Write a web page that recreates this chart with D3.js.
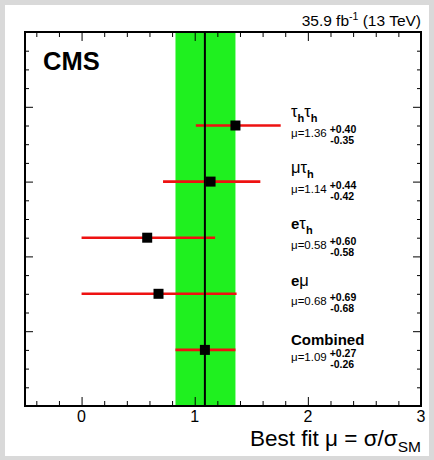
<!DOCTYPE html>
<html>
<head>
<meta charset="utf-8">
<script src="https://cdn.jsdelivr.net/npm/d3@7"></script>
<style>
  html, body { margin: 0; padding: 0; background: #d9d9d9; }
  svg { display: block; }
  text { font-family: "Liberation Sans", Arial, Helvetica, sans-serif; fill: #000; }
</style>
</head>
<body>
<svg id="chart" width="434" height="460"></svg>
<script>
// Signal strength per decay channel (best fit and asymmetric uncertainties)
const channels = ["tautau", "mutau", "etau", "emu", "combined"];
const muBest = [1.36, 1.14, 0.58, 0.68, 1.09];
const errUp = [0.40, 0.44, 0.60, 0.69, 0.27];
const errDown = [0.35, 0.42, 0.58, 0.68, 0.26];

// Channel names as rich-text segments: [text, style]
const channelNames = [
  [["τ", ""], ["h", "sub"], ["τ", ""], ["h", "sub"]],
  [["μ", ""], ["τ", ""], ["h", "sub"]],
  [["e", "bold"], ["τ", ""], ["h", "sub"]],
  [["e", "bold"], ["μ", ""]],
  [["Combined", "bold"]]
];

const xMajorTicks = [0, 1, 2, 3];
const xTickLabels = ["0", "1", "2", "3"];
const lumiLabel = "35.9 fb";
const lumiExp = "-1";
const lumiTail = " (13 TeV)";

const svg = d3.select("#chart");

// white canvas inside the grey surround
svg.append("rect").attr("x", 5).attr("y", 5).attr("width", 424).attr("height", 451).attr("fill", "#fff");

const frame = { left: 25, right: 421, top: 32, bottom: 406 };
const x = d3.scaleLinear().domain([-0.5, 3]).range([frame.left, frame.right]);
const y = d3.scaleLinear().domain([0, 5]).range([frame.bottom, frame.top]);
// rows sit evenly spaced from the bottom of the frame
const yRow = d3.scalePoint().domain(channels.slice().reverse()).range([y(0.75), y(3.75)]);

const comb = channels.length - 1;

// combined uncertainty band
svg.append("rect")
  .attr("x", x(muBest[comb] - errDown[comb]))
  .attr("y", frame.top)
  .attr("width", x(muBest[comb] + errUp[comb]) - x(muBest[comb] - errDown[comb]))
  .attr("height", frame.bottom - frame.top)
  .attr("fill", "#1ff01f");

// error bars
svg.append("g").selectAll("line").data(channels).join("line")
  .attr("x1", (d, i) => x(muBest[i] - errDown[i]))
  .attr("x2", (d, i) => x(muBest[i] + errUp[i]))
  .attr("y1", d => yRow(d)).attr("y2", d => yRow(d))
  .attr("stroke", "#ee1111").attr("stroke-width", 2.6);

// combined best-fit line
svg.append("line")
  .attr("x1", x(muBest[comb])).attr("x2", x(muBest[comb]))
  .attr("y1", frame.top).attr("y2", frame.bottom)
  .attr("stroke", "#000").attr("stroke-width", 2);

// best-fit markers
const ms = 10;
svg.append("g").selectAll("rect").data(channels).join("rect")
  .attr("x", (d, i) => x(muBest[i]) - ms / 2)
  .attr("y", d => yRow(d) - ms / 2)
  .attr("width", ms).attr("height", ms)
  .attr("fill", "#000");

// axes: ticks drawn inward on all four sides
function minorValues(scale, step) {
  const [a, b] = scale.domain();
  const out = [];
  for (let v = Math.ceil(a / step) * step; v <= b + 1e-9; v += step) {
    const r = Math.round(v * 1000) / 1000;
    if (Math.abs(r - Math.round(r)) > 1e-6) out.push(r);
  }
  return out;
}
const xMinor = minorValues(x, 0.2);
const yMajor = [1, 2, 3, 4];
const yMinor = minorValues(y, 0.25);

function drawAxis(axis, tx, ty) {
  const g = svg.append("g").attr("transform", `translate(${tx},${ty})`).call(axis);
  g.select(".domain").remove();
  g.selectAll("text").remove();
  g.selectAll("line").attr("stroke", "#000").attr("stroke-width", 1);
  return g;
}
drawAxis(d3.axisTop(x).tickValues(xMajorTicks).tickSize(9), 0, frame.bottom);
drawAxis(d3.axisTop(x).tickValues(xMinor).tickSize(5), 0, frame.bottom);
drawAxis(d3.axisBottom(x).tickValues(xMajorTicks).tickSize(9), 0, frame.top);
drawAxis(d3.axisBottom(x).tickValues(xMinor).tickSize(5), 0, frame.top);
drawAxis(d3.axisRight(y).tickValues(yMajor).tickSize(8), frame.left, 0);
drawAxis(d3.axisRight(y).tickValues(yMinor).tickSize(4), frame.left, 0);
drawAxis(d3.axisLeft(y).tickValues(yMajor).tickSize(8), frame.right, 0);
drawAxis(d3.axisLeft(y).tickValues(yMinor).tickSize(4), frame.right, 0);

// frame
svg.append("rect")
  .attr("x", frame.left).attr("y", frame.top)
  .attr("width", frame.right - frame.left).attr("height", frame.bottom - frame.top)
  .attr("fill", "none").attr("stroke", "#000").attr("stroke-width", 2);

// x tick labels
svg.append("g").selectAll("text").data(xMajorTicks).join("text")
  .attr("x", d => x(d)).attr("y", frame.bottom + 16)
  .attr("text-anchor", "middle").attr("font-size", 16)
  .text((d, i) => xTickLabels[i]);

// x axis title
const xt = svg.append("text").attr("x", frame.right).attr("y", 446)
  .attr("text-anchor", "end").attr("font-size", 22.5);
xt.append("tspan").text("Best fit μ = σ/σ");
xt.append("tspan").attr("font-size", 15.5).attr("dy", 6).text("SM");

// luminosity label
const lt = svg.append("text").attr("x", frame.right).attr("y", 26)
  .attr("text-anchor", "end").attr("font-size", 15.5);
lt.append("tspan").text(lumiLabel);
lt.append("tspan").attr("font-size", 10.5).attr("dy", -6).text(lumiExp);
lt.append("tspan").attr("dy", 6).text(lumiTail);

// experiment label
svg.append("text").attr("x", 43).attr("y", 70)
  .attr("font-size", 25.5).attr("font-weight", "bold").text("CMS");

// channel labels
const labelX = 291;
channels.forEach((c, i) => {
  const yc = yRow(c);
  const segs = channelNames[i];
  const hasSub = segs.some(s => s[1] === "sub");
  const hasDesc = segs.some(s => s[0].includes("μ"));
  const base = yc - 5 - (hasSub ? 4 : hasDesc ? 2.5 : 0);
  const t = svg.append("text").attr("x", labelX).attr("y", base).attr("font-size", 15);
  let shifted = false;
  segs.forEach(([txt, style]) => {
    const ts = t.append("tspan").text(txt);
    if (style === "bold") ts.attr("font-weight", "bold");
    if (style === "sub") {
      ts.attr("font-weight", "bold").attr("font-size", 11).attr("dy", shifted ? 0 : 5);
      shifted = true;
    } else {
      if (shifted) { ts.attr("dy", -5); shifted = false; }
      if (txt === "τ" || txt === "μ") ts.attr("font-size", 16.5);
    }
  });

  const m = svg.append("text").attr("x", labelX).attr("y", yc + 11.5)
    .attr("font-size", 11.5).text("μ=" + muBest[i].toFixed(2));
  const w = m.node().getComputedTextLength();
  svg.append("text").attr("x", labelX + w + 3).attr("y", yc + 7.5)
    .attr("font-size", 10.5).attr("font-weight", "bold").text("+" + errUp[i].toFixed(2));
  svg.append("text").attr("x", labelX + w + 3.5).attr("y", yc + 18.5)
    .attr("font-size", 10.5).attr("font-weight", "bold").text("-" + errDown[i].toFixed(2));
});
</script>
</body>
</html>
